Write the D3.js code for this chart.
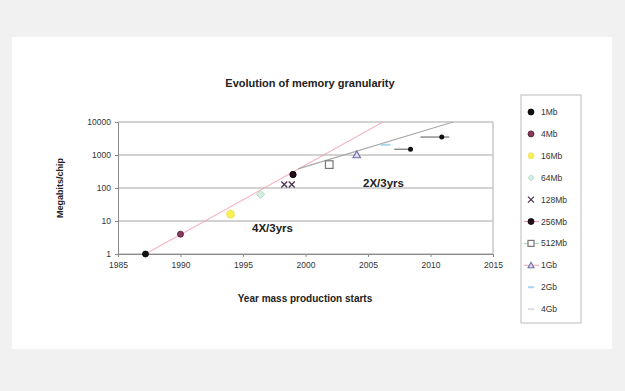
<!DOCTYPE html>
<html>
<head>
<meta charset="utf-8">
<script src="https://cdn.jsdelivr.net/npm/d3@7"></script>
<style>
  html, body { margin: 0; padding: 0; background: #f1f1f1; }
  svg { display: block; font-family: "Liberation Sans", Arial, sans-serif; }
</style>
</head>
<body>
<svg id="chart" width="625" height="391"></svg>
<script>
// Chip generations shown in the legend
const chips = ["1Mb", "4Mb", "16Mb", "64Mb", "128Mb", "256Mb", "512Mb", "1Gb", "2Gb", "4Gb"];

// Observed production starts: series index, year, megabits per chip
const pointChip  = [0, 1, 2, 3, 4, 4, 5, 6, 7, 8];
const pointYear  = [1987.2, 1990.0, 1994.0, 1996.4, 1998.3, 1998.9, 1999.0, 2001.9, 2004.1, 2006.4];
const pointValue = [1, 4, 16, 64, 128, 128, 256, 512, 1024, 2048];

// Projected starts drawn as a dot with a range bar
const projStart = [2007.1, 2009.2];
const projEnd   = [2008.5, 2011.5];
const projYear  = [2008.4, 2010.9];
const projValue = [1500, 3500];

// Growth trend lines: [year, megabits] endpoints
const trend4x = [[1987.2, 1], [2006.2, 10000]];
const trend2x = [[1999.4, 380], [2011.8, 10000]];

const xTicks = [1985, 1990, 1995, 2000, 2005, 2010, 2015];
const yTicks = [1, 10, 100, 1000, 10000];

const svg = d3.select("#chart");

// chart area
svg.append("rect").attr("x", 12).attr("y", 37).attr("width", 600).attr("height", 312)
  .attr("fill", "#ffffff");

const x = d3.scaleLinear().domain([1985, 2015]).range([118, 493]);
const y = d3.scaleLog().domain([1, 10000]).range([254, 122]);

// gridlines
svg.append("g").selectAll("line").data(yTicks).join("line")
  .attr("x1", x(1985)).attr("x2", x(2015))
  .attr("y1", d => y(d)).attr("y2", d => y(d))
  .attr("stroke", "#d2d2d2").attr("stroke-width", 2);

// plot frame (right edge)
svg.append("line").attr("x1", x(2015)).attr("x2", x(2015)).attr("y1", y(10000)).attr("y2", y(1))
  .attr("stroke", "#c8c8c8").attr("stroke-width", 1.5);

// axes
const xAxis = d3.axisBottom(x).tickValues(xTicks).tickFormat(d3.format("d")).tickSize(3).tickPadding(5);
const gx = svg.append("g").attr("transform", `translate(0,${y(1)})`).call(xAxis);
gx.select(".domain").attr("stroke", "#8a8a8a");
gx.selectAll(".tick line").attr("stroke", "#8a8a8a");
gx.selectAll("text").attr("font-size", 8.5).attr("fill", "#333");

const yAxis = d3.axisLeft(y).tickValues(yTicks).tickFormat(d3.format("d")).tickSize(3).tickPadding(4);
const gy = svg.append("g").attr("transform", `translate(${x(1985)},0)`).call(yAxis);
gy.select(".domain").attr("stroke", "#8a8a8a");
gy.selectAll(".tick line").attr("stroke", "#8a8a8a");
gy.selectAll("text").attr("font-size", 8.5).attr("fill", "#333");

// trend lines
const line = d3.line().x(d => x(d[0])).y(d => y(d[1]));
svg.append("path").datum(trend4x).attr("d", line)
  .attr("fill", "none").attr("stroke", "#f2a2b2").attr("stroke-width", 1.1).attr("opacity", 0.8);
svg.append("path").datum(trend2x).attr("d", line)
  .attr("fill", "none").attr("stroke", "#a8a8a8").attr("stroke-width", 1.1);

// marker styles per chip generation
const styles = [
  { shape: "circle",   fill: "#111111", stroke: "#000000", r: 3.0 },
  { shape: "circle",   fill: "#8a3a5c", stroke: "#4a1a30", r: 3.0 },
  { shape: "circle",   fill: "#f8f050", stroke: "#e8e070", r: 4.0 },
  { shape: "diamond",  fill: "#d6eee0", stroke: "#a8cfc0", r: 4.2 },
  { shape: "cross",    fill: "none",    stroke: "#4a2a55", r: 3.0 },
  { shape: "circle",   fill: "#2a0d1c", stroke: "#000000", r: 3.2 },
  { shape: "square",   fill: "#ffffff", stroke: "#777777", r: 3.8 },
  { shape: "triangle", fill: "#dcdcf2", stroke: "#7070ac", r: 3.8 },
  { shape: "dash",     fill: "none",    stroke: "#a6d6ee", r: 5 },
  { shape: "dash",     fill: "none",    stroke: "#dcdcdc", r: 5 }
];
const legendLine = [null, null, null, null, null, "#f5a0b4", "#a6dcb8", "#f5b0c0", null, null];

function drawMarker(g, s, cx, cy) {
  if (s.shape === "circle") {
    g.append("circle").attr("cx", cx).attr("cy", cy).attr("r", s.r)
      .attr("fill", s.fill).attr("stroke", s.stroke).attr("stroke-width", 0.8);
  } else if (s.shape === "square") {
    g.append("rect").attr("x", cx - s.r).attr("y", cy - s.r).attr("width", 2 * s.r).attr("height", 2 * s.r)
      .attr("fill", s.fill).attr("stroke", s.stroke).attr("stroke-width", 1.2);
  } else if (s.shape === "diamond") {
    g.append("path").attr("d", `M${cx},${cy - s.r}L${cx + s.r},${cy}L${cx},${cy + s.r}L${cx - s.r},${cy}Z`)
      .attr("fill", s.fill).attr("stroke", s.stroke).attr("stroke-width", 0.8);
  } else if (s.shape === "triangle") {
    g.append("path").attr("d", `M${cx},${cy - s.r}L${cx + s.r},${cy + s.r * 0.8}L${cx - s.r},${cy + s.r * 0.8}Z`)
      .attr("fill", s.fill).attr("stroke", s.stroke).attr("stroke-width", 1.1);
  } else if (s.shape === "cross") {
    g.append("path").attr("d", `M${cx - s.r},${cy - s.r}L${cx + s.r},${cy + s.r}M${cx - s.r},${cy + s.r}L${cx + s.r},${cy - s.r}`)
      .attr("stroke", s.stroke).attr("stroke-width", 1.2);
  } else if (s.shape === "dash") {
    g.append("line").attr("x1", cx - s.r).attr("x2", cx + s.r).attr("y1", cy).attr("y2", cy)
      .attr("stroke", s.stroke).attr("stroke-width", 2);
  }
}

// observed points
const pts = svg.append("g");
pointYear.forEach((yr, i) => drawMarker(pts, styles[pointChip[i]], x(yr), y(pointValue[i])));

// projected points with range bars
const proj = svg.append("g");
projYear.forEach((yr, i) => {
  proj.append("line").attr("x1", x(projStart[i])).attr("x2", x(projEnd[i]))
    .attr("y1", y(projValue[i])).attr("y2", y(projValue[i]))
    .attr("stroke", "#444").attr("stroke-width", 0.9);
  proj.append("circle").attr("cx", x(yr)).attr("cy", y(projValue[i])).attr("r", 2.5).attr("fill", "#111");
});

// growth-rate annotations
svg.append("text").attr("x", 252).attr("y", 232).attr("font-size", 11.5).attr("font-weight", "bold")
  .attr("fill", "#222").text("4X/3yrs");
svg.append("text").attr("x", 363).attr("y", 187).attr("font-size", 11.5).attr("font-weight", "bold")
  .attr("fill", "#222").text("2X/3yrs");

// titles
svg.append("text").attr("x", 310).attr("y", 87).attr("text-anchor", "middle")
  .attr("font-size", 11).attr("font-weight", "bold").attr("fill", "#222")
  .text("Evolution of memory granularity");
svg.append("text").attr("x", 305).attr("y", 302).attr("text-anchor", "middle")
  .attr("font-size", 10).attr("font-weight", "bold").attr("fill", "#222")
  .text("Year mass production starts");
svg.append("text").attr("transform", "translate(63,188) rotate(-90)").attr("text-anchor", "middle")
  .attr("font-size", 9).attr("font-weight", "bold").attr("fill", "#222")
  .text("Megabits/chip");

// legend
const lg = svg.append("g");
lg.append("rect").attr("x", 521).attr("y", 95).attr("width", 60).attr("height", 228)
  .attr("fill", "#fff").attr("stroke", "#bcbcbc").attr("stroke-width", 1);
chips.forEach((c, i) => {
  const cy = 112 + i * 21.9;
  if (legendLine[i]) {
    lg.append("line").attr("x1", 524).attr("x2", 539).attr("y1", cy).attr("y2", cy)
      .attr("stroke", legendLine[i]).attr("stroke-width", 1.2);
  }
  const s = Object.assign({}, styles[i], { r: Math.min(styles[i].r, 3.0) });
  drawMarker(lg, s, 531, cy);
  lg.append("text").attr("x", 541).attr("y", cy + 3).attr("font-size", 8.5).attr("fill", "#333").text(c);
});
</script>
</body>
</html>
